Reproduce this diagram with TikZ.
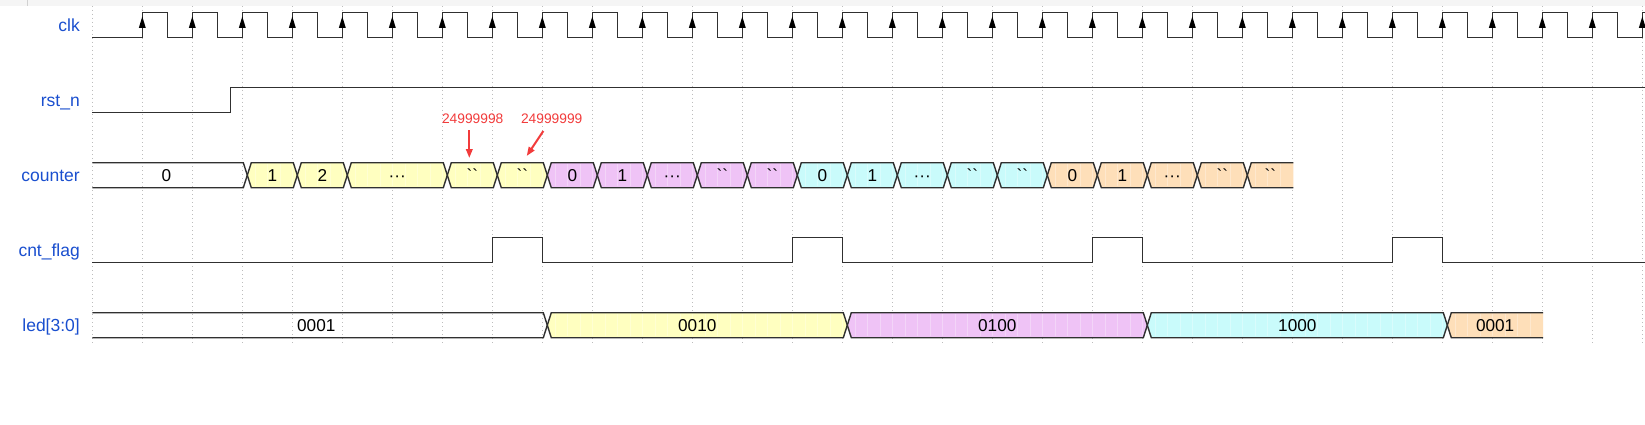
\documentclass[tikz,border=0pt]{standalone}
\usepackage{fontspec}
\setmainfont{Liberation Sans}
\newfontfamily\rawsans{Liberation Sans}[Ligatures=TeXOff]
\usetikzlibrary{arrows.meta}
\definecolor{lblblue}{HTML}{1A4FCF}
\definecolor{segY}{HTML}{FFFFC0}
\definecolor{segP}{HTML}{EFC3F6}
\definecolor{segC}{HTML}{C9FBFB}
\definecolor{segO}{HTML}{FEDFB9}
\definecolor{annred}{HTML}{F23B3B}
\definecolor{wavec}{HTML}{303030}
\pgfdeclarelayer{gridl}
\pgfdeclarelayer{fills}
\pgfdeclarelayer{stripes}
\pgfdeclarelayer{fg}
\pgfsetlayers{gridl,fills,stripes,main,fg}
\tikzset{
  wave/.style={draw=wavec, line width=1.4pt, line join=miter},
  gridln/.style={draw=black!26, line width=0.8pt, dash pattern=on 1pt off 3pt},
  sig/.style={text=lblblue, font=\fontsize{17.5}{20}\selectfont, anchor=base east, inner sep=0pt},
  val/.style={text=black, font=\fontsize{17.2}{19}\selectfont, anchor=base, inner sep=0pt},
  ann/.style={text=annred, font=\fontsize{13.8}{16}\selectfont, anchor=base, inner sep=0pt},
  annarrow/.style={draw=annred, line width=2pt, -{Triangle[length=9pt,width=6.5pt]}},
  stripe/.style={draw=white, opacity=0.3, line width=0.6pt},
}
\newcommand\tk{{\rawsans``}}
\newcommand\dd{···}
% middle bus segment: x1 x2 top bot colour name text
\newcommand\bmid[7]{%
  \pgfmathsetmacro\ym{(#3+#4)/2}\pgfmathsetmacro\xa{#1+4}\pgfmathsetmacro\xb{#2-4}%
  \pgfmathsetmacro\xc{(#1+#2)/2}\pgfmathsetmacro\yb{\ym+6.3}%
  \begin{pgfonlayer}{fills}\fill[#5] (#1,\ym) -- (\xa,#3) -- (\xb,#3) -- (#2,\ym) -- (\xb,#4) -- (\xa,#4) -- cycle;\end{pgfonlayer}%
  \draw[wave] (#1,\ym) -- (\xa,#3) -- (\xb,#3) -- (#2,\ym) -- (\xb,#4) -- (\xa,#4) -- cycle;%
  \begin{pgfonlayer}{fg}\node[val] (#6) at (\xc,\yb) {#7};\end{pgfonlayer}}
% first bus segment (open left, no fill): x1 x2 top bot name text
\newcommand\bfirst[6]{%
  \pgfmathsetmacro\ym{(#3+#4)/2}\pgfmathsetmacro\xb{#2-4}%
  \pgfmathsetmacro\xc{(#1+#2)/2-3.5}\pgfmathsetmacro\yb{\ym+6.3}%
  \draw[wave] (#1,#3) -- (\xb,#3) -- (#2,\ym) -- (\xb,#4) -- (#1,#4);%
  \begin{pgfonlayer}{fg}\node[val] (#5) at (\xc,\yb) {#6};\end{pgfonlayer}}
% last bus segment (open right): x1 x2 top bot colour name text
\newcommand\blast[7]{%
  \pgfmathsetmacro\ym{(#3+#4)/2}\pgfmathsetmacro\xa{#1+4}%
  \pgfmathsetmacro\xc{(#1+#2)/2}\pgfmathsetmacro\yb{\ym+6.3}%
  \begin{pgfonlayer}{fills}\fill[#5] (#1,\ym) -- (\xa,#3) -- (#2,#3) -- (#2,#4) -- (\xa,#4) -- cycle;\end{pgfonlayer}%
  \draw[wave] (#2,#3) -- (\xa,#3) -- (#1,\ym) -- (\xa,#4) -- (#2,#4);%
  \begin{pgfonlayer}{fg}\node[val] (#6) at (\xc,\yb) {#7};\end{pgfonlayer}}
\begin{document}
\begin{tikzpicture}[x=1pt,y=-1pt]
\useasboundingbox (0,0) rectangle (1645,425);
\begin{pgfonlayer}{gridl}
  \fill[white] (0,0) rectangle (1645,425);
  \fill[black!4] (0,0) rectangle (1645,6);
  \draw[black!18, line width=0.8pt] (27.7,0) -- (27.7,6);
  \foreach \k in {0,...,31} \draw[gridln] ({92.3+50*\k},6) -- ({92.3+50*\k},343);
\end{pgfonlayer}

% signal names
\node[sig] (Lclk) at (80,31.5) {clk};
\node[sig] (Lrst) at (80,106.7) {rst\_n};
\node[sig] (Lcnt) at (80,181.7) {counter};
\node[sig] (Lflag) at (80,256.7) {cnt\_flag};
\node[sig] (Lled) at (80,331.7) {led[3:0]};

% clk
\draw[wave] (92.3,37.7) \foreach \k in {1,...,30} { -- ({92.3+50*\k},37.7) -- ({92.3+50*\k},12.3) -- ({117.3+50*\k},12.3) -- ({117.3+50*\k},37.7) } -- (1642.3,37.7) -- (1642.3,12.3) -- (1645,12.3);
\foreach \k in {1,...,31} \fill[black] ({92.3+50*\k},16.5) -- ({88.8+50*\k},28) -- ({95.8+50*\k},28) -- cycle;

% rst_n
\draw[wave] (92.3,112.7) -- (230.3,112.7) -- (230.3,87.7) -- (1645,87.7);

% counter
\bfirst{92.3}{247.3}{162.7}{187.7}{c1}{0}
\foreach \xl/\xr/\cl/\tx/\nm in {
  247.3/297.3/segY/1/c2, 297.3/347.3/segY/2/c3, 347.3/447.3/segY/\dd/c4,
  447.3/497.3/segY/\tk/c5, 497.3/547.3/segY/\tk/c6,
  547.3/597.3/segP/0/c7, 597.3/647.3/segP/1/c8, 647.3/697.3/segP/\dd/c9,
  697.3/747.3/segP/\tk/c10, 747.3/797.3/segP/\tk/c11,
  797.3/847.3/segC/0/c12, 847.3/897.3/segC/1/c13, 897.3/947.3/segC/\dd/c14,
  947.3/997.3/segC/\tk/c15, 997.3/1047.3/segC/\tk/c16,
  1047.3/1097.3/segO/0/c17, 1097.3/1147.3/segO/1/c18, 1147.3/1197.3/segO/\dd/c19,
  1197.3/1247.3/segO/\tk/c20}
  {\bmid{\xl}{\xr}{162.7}{187.7}{\cl}{\nm}{\tx}}
\blast{1247.3}{1293.3}{162.7}{187.7}{segO}{c21}{\tk}

% cnt_flag
\draw[wave] (92.3,262.7) -- (492.3,262.7) -- (492.3,237.7) -- (542.3,237.7) -- (542.3,262.7)
  -- (792.3,262.7) -- (792.3,237.7) -- (842.3,237.7) -- (842.3,262.7)
  -- (1092.3,262.7) -- (1092.3,237.7) -- (1142.3,237.7) -- (1142.3,262.7)
  -- (1392.3,262.7) -- (1392.3,237.7) -- (1442.3,237.7) -- (1442.3,262.7) -- (1645,262.7);

% led[3:0]
\bfirst{92.3}{547.3}{312.7}{337.7}{l1}{0001}
\foreach \xl/\xr/\cl/\tx/\nm in {
  547.3/847.3/segY/0010/l2, 847.3/1147.3/segP/0100/l3, 1147.3/1447.3/segC/1000/l4}
  {\bmid{\xl}{\xr}{312.7}{337.7}{\cl}{\nm}{\tx}}
\blast{1447.3}{1543}{312.7}{337.7}{segO}{l5}{0001}

% light stripes over the coloured fills
\begin{pgfonlayer}{stripes}
  \foreach \m in {13,...,95} \draw[stripe] ({92.3+12.5*\m},164.2) -- ({92.3+12.5*\m},186.2);
  \foreach \m in {37,...,115} \draw[stripe] ({92.3+12.5*\m},314.2) -- ({92.3+12.5*\m},336.2);
\end{pgfonlayer}

% annotations
\node[ann] (A1) at (472.7,123.3) {24999998};
\node[ann] (A2) at (551.7,123.3) {24999999};
\coordinate (A1s) at (469.3,130);
\coordinate (A1e) at (469.3,158);
\coordinate (A2s) at (543.3,131);
\coordinate (A2e) at (526.7,156);
\draw[annarrow] (A1s) -- (A1e);
\draw[annarrow] (A2s) -- (A2e);
\end{tikzpicture}
\end{document}
